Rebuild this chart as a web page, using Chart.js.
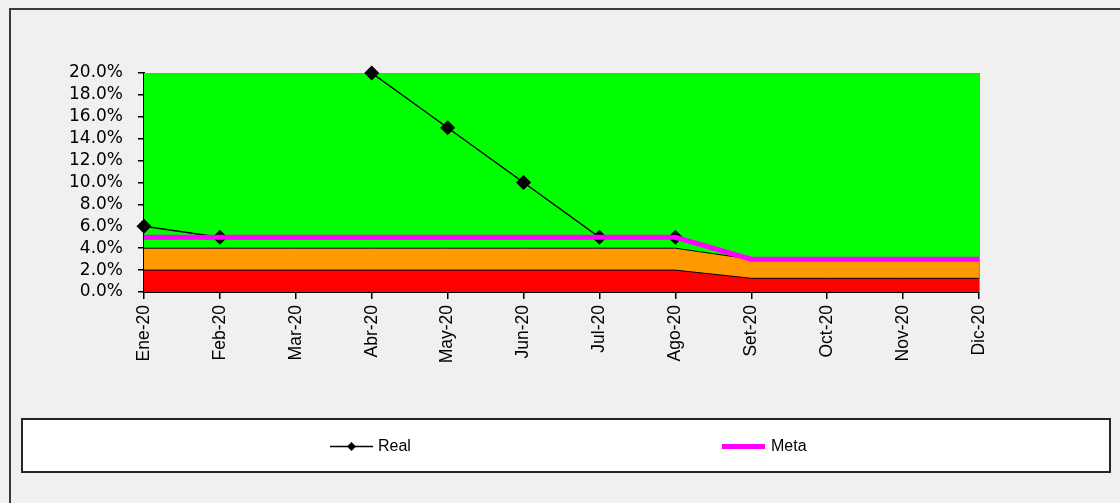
<!DOCTYPE html>
<html>
<head>
<meta charset="utf-8">
<script src="https://cdn.jsdelivr.net/npm/chart.js@4/dist/chart.umd.min.js"></script>
<style>
  html, body { margin: 0; padding: 0; background: #f0f0f0; }
  #wrap { width: 1120px; height: 503px; position: relative; }
</style>
</head>
<body>
<div id="wrap"><canvas id="chart" width="1120" height="503"></canvas></div>
<script>
// Months of 2020 (Spanish abbreviations)
const months = ['Ene-20', 'Feb-20', 'Mar-20', 'Abr-20', 'May-20', 'Jun-20',
                'Jul-20', 'Ago-20', 'Set-20', 'Oct-20', 'Nov-20', 'Dic-20'];

// Actual monthly values (%), Mar-20 and Set-20 onward not reported
const real = [6, 5, null, 20, 15, 10, 5, 5, null, null, null, null];

// Target (%)
const meta = [5, 5, 5, 5, 5, 5, 5, 5, 3, 3, 3, 3];

// Traffic-light bands (upper bound of each band, %)
const bandRed    = [2, 2, 2, 2, 2, 2, 2, 2, 1.25, 1.25, 1.25, 1.25];
const bandOrange = [4, 4, 4, 4, 4, 4, 4, 4, 3, 3, 3, 3];
const bandGreen  = [20, 20, 20, 20, 20, 20, 20, 20, 20, 20, 20, 20];

// Y axis ticks (%)
const yMin = 0, yMax = 20, yStep = 2;

const FONT = 'Liberation Sans, Arial, sans-serif';
const FONT_Y = 'DejaVu Sans, Liberation Sans, sans-serif';

// Outer frame and plot-area edge
const framePlugin = {
  id: 'frame',
  beforeDraw(chart) {
    const ctx = chart.ctx;
    ctx.save();
    ctx.fillStyle = '#f0f0f0';
    ctx.fillRect(0, 0, chart.width, chart.height);
    ctx.strokeStyle = '#3a3a3a';
    ctx.lineWidth = 2;
    ctx.beginPath();
    ctx.moveTo(10, chart.height);
    ctx.lineTo(10, 9);
    ctx.lineTo(chart.width, 9);
    ctx.stroke();
    ctx.restore();
  },
  afterDatasetsDraw(chart) {
    const { ctx, chartArea } = chart;
    ctx.save();
    ctx.strokeStyle = '#8c8c8c';
    ctx.lineWidth = 1;
    ctx.beginPath();
    ctx.moveTo(chartArea.right + 0.5, chartArea.top);
    ctx.lineTo(chartArea.right + 0.5, chartArea.bottom);
    ctx.stroke();
    ctx.restore();
  }
};

// Boxed legend below the axis labels
const legendBoxPlugin = {
  id: 'legendBox',
  afterDraw(chart) {
    const ctx = chart.ctx;
    const dsReal = chart.data.datasets[3];
    const dsMeta = chart.data.datasets[4];
    const box = { x: 22, y: 419, w: 1088, h: 53 };
    const cy = box.y + box.h / 2 + 1;
    ctx.save();
    ctx.fillStyle = '#ffffff';
    ctx.fillRect(box.x, box.y, box.w, box.h);
    ctx.strokeStyle = '#262626';
    ctx.lineWidth = 2;
    ctx.strokeRect(box.x, box.y, box.w, box.h);

    // Real: line with diamond marker
    ctx.strokeStyle = dsReal.borderColor;
    ctx.lineWidth = dsReal.borderWidth;
    ctx.beginPath();
    ctx.moveTo(330, cy);
    ctx.lineTo(373, cy);
    ctx.stroke();
    ctx.fillStyle = dsReal.pointBackgroundColor;
    ctx.beginPath();
    const mx = 351.5, r = 4.5;
    ctx.moveTo(mx, cy - r);
    ctx.lineTo(mx + r, cy);
    ctx.lineTo(mx, cy + r);
    ctx.lineTo(mx - r, cy);
    ctx.closePath();
    ctx.fill();

    // Meta: thick magenta line
    ctx.strokeStyle = dsMeta.borderColor;
    ctx.lineWidth = dsMeta.borderWidth;
    ctx.beginPath();
    ctx.moveTo(722, cy);
    ctx.lineTo(765, cy);
    ctx.stroke();

    ctx.fillStyle = '#000';
    ctx.font = '16px ' + FONT;
    ctx.textBaseline = 'middle';
    ctx.textAlign = 'left';
    ctx.fillText(dsReal.label, 378, cy);
    ctx.fillText(dsMeta.label, 771, cy);
    ctx.restore();
  }
};

new Chart(document.getElementById('chart'), {
  type: 'line',
  data: {
    labels: months,
    datasets: [
      {
        label: 'Rojo', data: bandRed, order: 2,
        backgroundColor: '#ff0000', borderColor: '#000000', borderWidth: 1,
        fill: 'origin', pointRadius: 0, tension: 0
      },
      {
        label: 'Ámbar', data: bandOrange, order: 3,
        backgroundColor: '#ff9900', borderColor: '#000000', borderWidth: 1,
        fill: 0, pointRadius: 0, tension: 0
      },
      {
        label: 'Verde', data: bandGreen, order: 4,
        backgroundColor: '#00ff00', borderColor: '#8c8c8c', borderWidth: 1,
        fill: 1, pointRadius: 0, tension: 0
      },
      {
        label: 'Real', data: real, order: 1,
        borderColor: '#000000', borderWidth: 1.5, fill: false,
        pointStyle: 'rectRot', pointRadius: 6.5,
        pointBackgroundColor: '#000000', pointBorderColor: '#000000',
        spanGaps: false, tension: 0, clip: false
      },
      {
        label: 'Meta', data: meta, order: 0,
        borderColor: '#ff00ff', borderWidth: 5, fill: false,
        pointRadius: 0, tension: 0, clip: false
      }
    ]
  },
  options: {
    responsive: false,
    animation: false,
    devicePixelRatio: 1,
    layout: { padding: { left: 0, right: 141, top: 73, bottom: 0 } },
    plugins: {
      legend: { display: false },
      tooltip: { enabled: false },
      filler: { drawTime: 'beforeDatasetsDraw' }
    },
    scales: {
      x: {
        offset: false,
        grid: { display: true, drawOnChartArea: false, drawTicks: true, tickLength: 7, color: '#000', lineWidth: 1.5 },
        border: { display: true, color: '#000', width: 2 },
        ticks: {
          autoSkip: false, minRotation: 90, maxRotation: 90, padding: 6,
          color: '#000', font: { family: FONT, size: 17.5 }
        },
        afterFit(scale) { scale.height = 211; }
      },
      y: {
        min: yMin, max: yMax,
        grid: { display: true, drawOnChartArea: false, drawTicks: true, tickLength: 6, color: '#000', lineWidth: 1.5 },
        border: { display: true, color: '#000', width: 2 },
        ticks: {
          autoSkip: false, stepSize: yStep, padding: 15, color: '#000',
          font: { family: FONT_Y, size: 17 },
          callback: (v) => v.toFixed(1) + '%'
        },
        afterFit(scale) { scale.width = 144; }
      }
    }
  },
  plugins: [framePlugin, legendBoxPlugin]
});
</script>
</body>
</html>
